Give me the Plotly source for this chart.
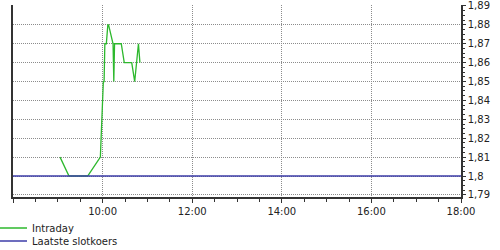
import plotly.graph_objects as go

day = "2024-01-02 "
intraday_times = ["09:03", "09:15", "09:40", "09:57", "10:01", "10:02", "10:03", "10:05",
                  "10:07", "10:08", "10:14", "10:15", "10:16", "10:25", "10:29", "10:39",
                  "10:43", "10:48", "10:50"]
intraday_values = [1.81, 1.80, 1.80, 1.81, 1.85, 1.85, 1.87, 1.87,
                   1.88, 1.88, 1.87, 1.85, 1.87, 1.87, 1.86, 1.86,
                   1.85, 1.87, 1.86]
close_times = ["08:00", "18:00"]
close_values = [1.80, 1.80]
x_range = ["08:00", "18:00"]
y_range = [1.7889, 1.8905]

fig = go.Figure()
fig.add_trace(go.Scatter(
    x=[day + t for t in intraday_times], y=intraday_values, mode="lines",
    name="Intraday", line=dict(color="#2db82d", width=1.3), legend="legend"))
fig.add_trace(go.Scatter(
    x=[day + t for t in close_times], y=close_values, mode="lines",
    name="Laatste slotkoers", line=dict(color="#3c3ca8", width=1.5), legend="legend2"))

axis_font = dict(family="DejaVu Sans", size=10, color="#222222")
grid_color = "#8c8c8c"
L, R, T, B = 13, 39, 5, 53
pw, ph = 500 - L - R, 250 - T - B
leg_x = (-8 - L) / pw
fig.update_layout(
    width=500, height=250,
    margin=dict(l=L, r=R, t=T, b=B, autoexpand=False),
    paper_bgcolor="white", plot_bgcolor="white",
    separators=",.",
    font=axis_font,
    xaxis=dict(
        type="date", range=[day + x_range[0], day + x_range[1]],
        dtick=2 * 3600 * 1000, tick0=day + "08:00", tickformat="%H:%M",
        showgrid=True, gridcolor=grid_color, griddash="1px,1px", gridwidth=1,
        showline=True, linecolor="#333333", linewidth=1.5,
        ticks="outside", ticklen=4, tickcolor="#333333",
        minor=dict(dtick=30 * 60 * 1000, ticks="outside", ticklen=3,
                   tickcolor="#333333", showgrid=False),
        zeroline=False, tickfont=axis_font,
    ),
    yaxis=dict(
        side="right", range=y_range, dtick=0.01, tick0=1.79,
        showgrid=True, gridcolor=grid_color, griddash="1px,1px", gridwidth=1,
        showline=True, mirror=True, linecolor="#333333", linewidth=1.5,
        ticks="outside", ticklen=3, tickcolor="#333333",
        minor=dict(dtick=0.0025, ticks="outside", ticklen=2,
                   tickcolor="#333333", showgrid=False),
        zeroline=False, tickfont=axis_font,
    ),
    legend=dict(xref="paper", yref="paper", x=leg_x, y=(T + ph - 228) / ph,
                xanchor="left", yanchor="middle", bgcolor="rgba(0,0,0,0)",
                font=axis_font, itemwidth=30),
    legend2=dict(xref="paper", yref="paper", x=leg_x, y=(T + ph - 241) / ph,
                 xanchor="left", yanchor="middle", bgcolor="rgba(0,0,0,0)",
                 font=axis_font, itemwidth=30),
    showlegend=True,
)

fig.write_html("out.html")
